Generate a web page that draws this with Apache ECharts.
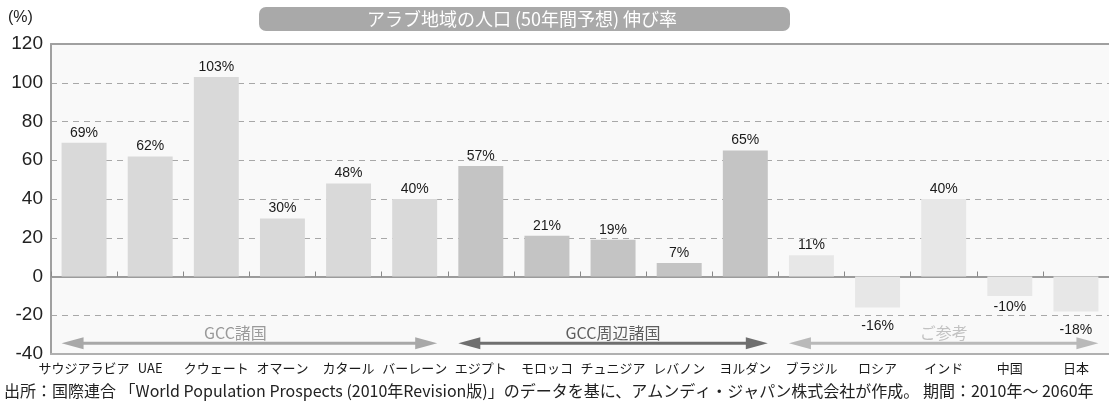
<!DOCTYPE html>
<html>
<head>
<meta charset="utf-8">
<script src="https://cdn.jsdelivr.net/npm/echarts@6/dist/echarts.min.js"></script>
<style>
html,body{margin:0;padding:0;background:#fff;}
#chart{width:1109px;height:405px;}
</style>
</head>
<body>
<div id="chart"></div>
<script>
// ---- data ----
const categories = ['サウジアラビア','UAE','クウェート','オマーン','カタール','バーレーン','エジプト','モロッコ','チュニジア','レバノン','ヨルダン','ブラジル','ロシア','インド','中国','日本'];
const values = [69, 62, 103, 30, 48, 40, 57, 21, 19, 7, 65, 11, -16, 40, -10, -18];
const groupOf = [0,0,0,0,0,0,1,1,1,1,1,2,2,2,2,2];
const groupNames = ['GCC諸国', 'GCC周辺諸国', 'ご参考'];
const groupStart = [0, 6, 11];
const groupEnd = [5, 10, 15];
const yMin = -40, yMax = 120, yStep = 20;
const titleText = 'アラブ地域の人口 (50年間予想) 伸び率';
const unitText = '(%)';
const sourceText = '出所：国際連合 「World Population Prospects (2010年Revision版)」のデータを基に、アムンディ・ジャパン株式会社が作成。 期間：2010年～ 2060年';

// ---- styles ----
const groupBarColors = ['#d9d9d9', '#c4c4c4', '#e7e7e7'];
const groupArrowColors = ['#a8a8a8', '#6f6f6f', '#b9b9b9'];
const groupTextColors = ['#9a9a9a', '#5e5e5e', '#c2c2c2'];
const ARROW_Y = -34.5, ARROW_LABEL_Y = -29;
const numFont = "'Liberation Sans',Arial,sans-serif";
const jpFont = "'Noto Sans CJK JP','Noto Sans',sans-serif";

const chart = echarts.init(document.getElementById('chart'));

const barData = values.map((v, i) => ({
  value: v,
  itemStyle: { color: groupBarColors[groupOf[i]] },
  label: v < 0 ? { position: 'bottom', distance: v === -10 ? 4 : 12 } : { position: 'top', distance: 3 }
}));

const arrowData = groupNames.map((n, g) => [groupStart[g], groupEnd[g], g]);

const option = {
  animation: false,
  backgroundColor: '#ffffff',
  grid: { left: 51, right: 0, top: 44, bottom: 51, show: true, backgroundColor: '#f9f9f9', borderWidth: 0 },
  graphic: [
    { type: 'rect', left: 259, top: 7, shape: { width: 531, height: 24, r: 7 }, style: { fill: '#a9a9a9' }, z: 10 },
    { type: 'text', x: 522, y: 19, style: { text: titleText, fill: '#ffffff', font: '18px ' + jpFont, align: 'center', verticalAlign: 'middle' }, z: 11 },
    { type: 'text', left: 8, top: 10, style: { text: unitText, fill: '#222', font: '16px ' + numFont } },
    { type: 'text', left: 4, top: 383, style: { text: sourceText, fill: '#222', font: '16px ' + jpFont } }
  ],
  xAxis: [
    {
      type: 'category', data: categories, position: 'bottom',
      axisLine: { onZero: false, lineStyle: { color: '#b0b0b0', width: 2 } },
      axisTick: { show: false },
      axisLabel: { interval: 0, color: '#1a1a1a', fontSize: 13, fontFamily: jpFont, margin: 8 },
      splitLine: { show: false }
    },
    {
      type: 'category', data: categories, position: 'bottom',
      axisLine: { onZero: true, lineStyle: { color: '#9c9c9c', width: 2 } },
      axisTick: { show: true, inside: true, length: 5, interval: 0, lineStyle: { color: '#888', width: 1 } },
      axisLabel: { show: false },
      splitLine: { show: false }
    },
    {
      type: 'category', data: categories, position: 'top',
      axisLine: { lineStyle: { color: '#a0a0a0', width: 2 } },
      axisTick: { show: false }, axisLabel: { show: false }, splitLine: { show: false }
    }
  ],
  yAxis: {
    type: 'value', min: yMin, max: yMax, interval: yStep,
    axisLine: { show: true, lineStyle: { color: '#a0a0a0', width: 2 } },
    axisTick: { show: false },
    axisLabel: { color: '#222', fontSize: 19, fontFamily: numFont, margin: 8 },
    splitLine: { show: true, lineStyle: { color: '#a8a8a8', type: [6, 5], width: 1 } }
  },
  series: [
    {
      type: 'bar', xAxisIndex: 0, data: barData, barWidth: '68%', z: 3,
      label: { show: true, formatter: p => p.value + '%', color: '#1a1a1a', fontSize: 14, fontFamily: numFont }
    },
    {
      type: 'custom', xAxisIndex: 0, data: arrowData, z: 4, silent: true,
      encode: { x: [0, 1] },
      renderItem: (params, api) => {
        const s = api.value(0), e = api.value(1), g = api.value(2);
        const band = api.size([1, 0])[0];
        const half = band * 0.34;
        const p0 = api.coord([s, ARROW_Y]);
        const p1 = api.coord([e, ARROW_Y]);
        const x0 = p0[0] - half, x1 = p1[0] + half, y = p0[1];
        const t = api.coord([s, ARROW_LABEL_Y]);
        const head = 22, hh = 6;
        const col = groupArrowColors[g];
        return {
          type: 'group',
          children: [
            { type: 'line', shape: { x1: x0 + head - 2, y1: y, x2: x1 - head + 2, y2: y }, style: { stroke: col, lineWidth: 3 } },
            { type: 'polygon', shape: { points: [[x0, y], [x0 + head, y - hh], [x0 + head, y + hh]] }, style: { fill: col } },
            { type: 'polygon', shape: { points: [[x1, y], [x1 - head, y - hh], [x1 - head, y + hh]] }, style: { fill: col } },
            { type: 'text', x: (x0 + x1) / 2 - (g === 0 ? 14 : 0), y: t[1], style: { text: groupNames[g], fill: groupTextColors[g], font: '16px ' + jpFont, align: 'center', verticalAlign: 'middle' } }
          ]
        };
      }
    }
  ]
};
chart.setOption(option);
</script>
</body>
</html>
